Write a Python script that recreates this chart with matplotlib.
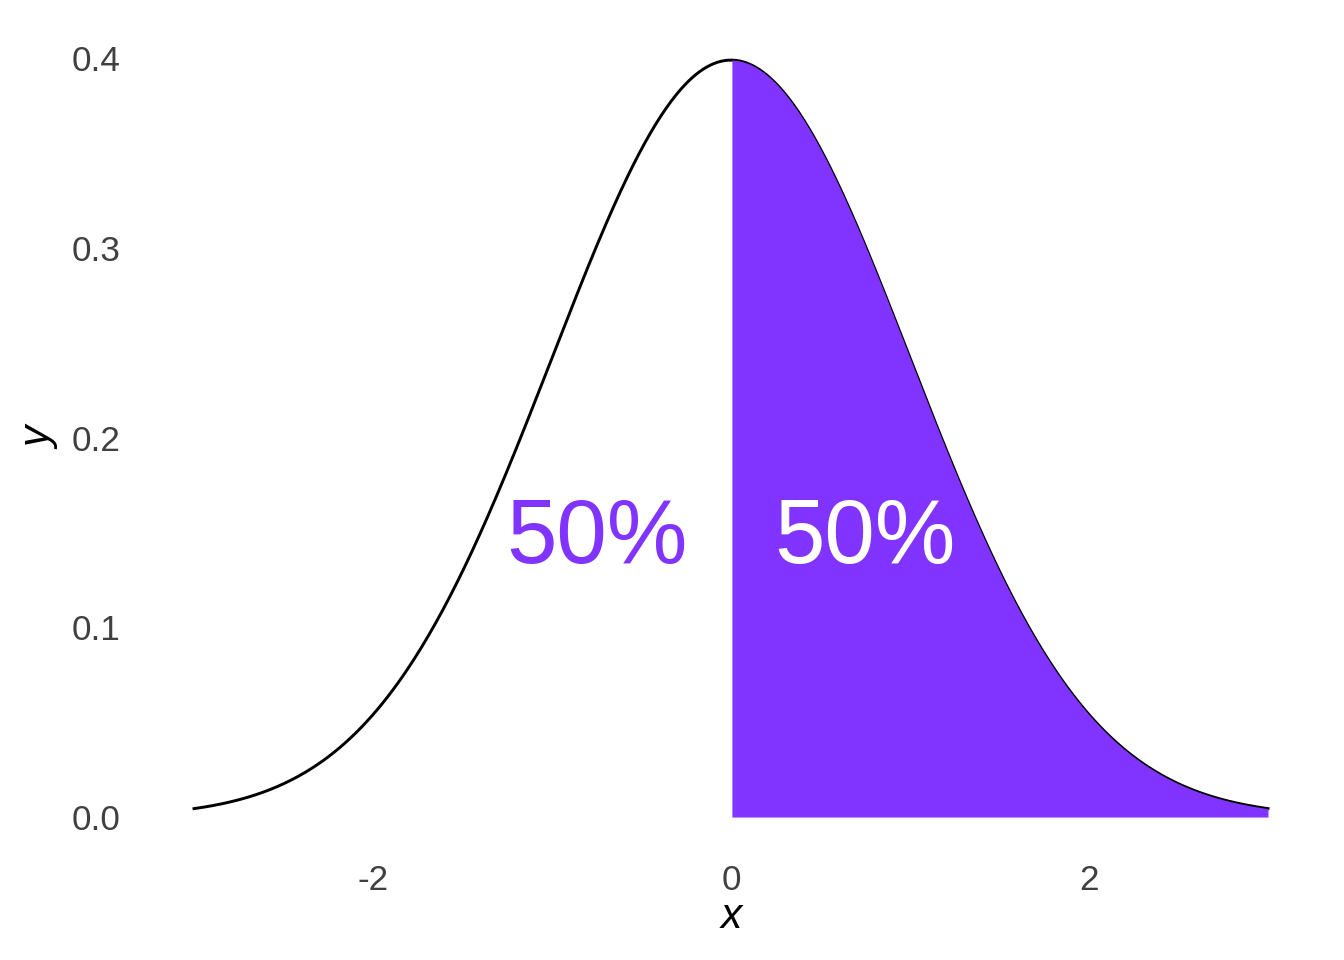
import matplotlib
matplotlib.use("Agg")
import matplotlib.pyplot as plt
import numpy as np

# standard normal curve, shaded to the right of the mean
mu = 0.0
sigma = 1.0
x_lo, x_hi = -3.0, 3.0
cut = 0.0
labels = ["50%", "50%"]
label_x = [-0.75, 0.75]
label_y = [0.134, 0.134]
xticks = [-2, 0, 2]
yticks = [0.0, 0.1, 0.2, 0.3, 0.4]

purple = "#8133FF"

x = np.linspace(x_lo, x_hi, 600)
y = np.exp(-0.5 * ((x - mu) / sigma) ** 2) / (sigma * np.sqrt(2 * np.pi))

plt.rcParams['font.family'] = ['Liberation Sans', 'DejaVu Sans']

fig = plt.figure(figsize=(7, 5), dpi=192)
ax = fig.add_axes([0.1044, 0.1095, 0.879, 0.8673])

ax.plot(x, y, color="black", lw=1.1, zorder=2)
right = x >= cut
ax.fill_between(x[right], 0, y[right], color=purple, lw=0, zorder=3)

ax.text(label_x[0], label_y[0], labels[0], color=purple, fontsize=34,
        ha="center", va="baseline", zorder=4)
ax.text(label_x[1], label_y[1], labels[1], color="white", fontsize=34,
        ha="center", va="baseline", zorder=4)

ax.set_xlim(x_lo - 0.3, x_hi + 0.3)
ax.set_ylim(-0.05 * y.max(), y.max() * 1.05)
ax.set_xticks(xticks)
ax.set_xticklabels([str(t) for t in xticks])
ax.set_yticks(yticks)
ax.set_yticklabels([f"{t:.1f}" for t in yticks])
ax.tick_params(length=0, labelsize=13.2, labelcolor="#404040")
ax.tick_params(axis="y", pad=7.5)
ax.tick_params(axis="x", pad=3.3)
ax.set_xlabel("x", fontsize=16, style="italic", labelpad=0)
ax.set_ylabel("y", fontsize=16, style="italic", labelpad=4)
for s in ax.spines.values():
    s.set_visible(False)

fig.savefig("out.png", dpi=192, facecolor="white")
